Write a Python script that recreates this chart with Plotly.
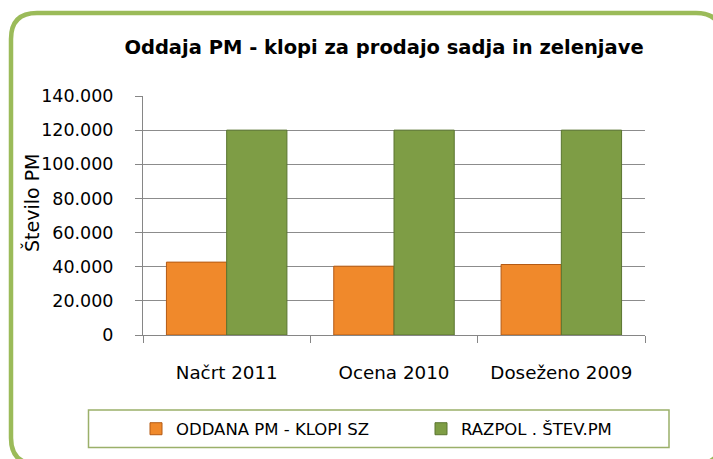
import plotly.graph_objects as go

categories = ["Načrt 2011", "Ocena 2010", "Doseženo 2009"]
oddana = [42700, 40300, 41300]
razpol = [120000, 120000, 120000]
series_names = ["ODDANA PM - KLOPI SZ", "RAZPOL . ŠTEV.PM"]
tick_vals = [0, 20000, 40000, 60000, 80000, 100000, 120000, 140000]
tick_text = ["0", "20.000", "40.000", "60.000", "80.000", "100.000", "120.000", "140.000"]
y_title = "Število PM"

W, H = 713, 459
L, R, T, B = 143, 68, 96, 124
PW, PH = W - L - R, H - T - B

def px(x):
    return (x - L) / PW

def py(y):
    return (H - B - y) / PH

fig = go.Figure()
fig.add_trace(go.Bar(
    x=categories, y=oddana, name=series_names[0], legend="legend",
    marker=dict(color="#F0892B", line=dict(color="#B45A14", width=1)),
))
fig.add_trace(go.Bar(
    x=categories, y=razpol, name=series_names[1], legend="legend2",
    marker=dict(color="#7E9D45", line=dict(color="#5A7530", width=1)),
))

# rounded frame
x0, y0, x1, y1, r = 11, 13, 722, 464, 26
path = (
    f"M {px(x0+r)},{py(y0)} L {px(x1-r)},{py(y0)} Q {px(x1)},{py(y0)} {px(x1)},{py(y0+r)} "
    f"L {px(x1)},{py(y1-r)} Q {px(x1)},{py(y1)} {px(x1-r)},{py(y1)} "
    f"L {px(x0+r)},{py(y1)} Q {px(x0)},{py(y1)} {px(x0)},{py(y1-r)} "
    f"L {px(x0)},{py(y0+r)} Q {px(x0)},{py(y0)} {px(x0+r)},{py(y0)} Z"
)
shapes = [
    dict(type="path", xref="paper", yref="paper", path=path,
         line=dict(color="#9BBB59", width=4.5), layer="below"),
    dict(type="rect", xref="paper", yref="paper",
         x0=px(88.5), x1=px(669), y0=py(447.5), y1=py(410),
         line=dict(color="#9BB06A", width=1.5)),
]

leg_common = dict(orientation="h", yanchor="middle", y=py(429), xanchor="left",
                  font=dict(size=16.5), bgcolor="rgba(0,0,0,0)", borderwidth=0)

fig.update_layout(
    width=W, height=H,
    margin=dict(l=L, r=R, t=T, b=B, autoexpand=False),
    paper_bgcolor="white", plot_bgcolor="white",
    barmode="group", bargap=0.28, bargroupgap=0,
    font=dict(family="DejaVu Sans", color="#000000"),
    title=dict(text="<b>Oddaja PM - klopi za prodajo sadja in zelenjave</b>",
               x=384 / W, xanchor="center", y=1 - 47 / H, yanchor="middle",
               font=dict(size=19.5, family="DejaVu Sans")),
    showlegend=True,
    legend=dict(x=px(136), **leg_common),
    legend2=dict(x=px(421), **leg_common),
    shapes=shapes,
    annotations=[dict(text=y_title, textangle=-90, xref="paper", yref="paper",
                      x=px(31), y=py(203), xanchor="center", yanchor="middle",
                      showarrow=False, font=dict(size=19))],
    xaxis=dict(showline=True, linecolor="#868686", linewidth=1, automargin=False,
               ticks="outside", tickson="boundaries", ticklen=7, tickcolor="#868686",
               tickfont=dict(size=18.3), ticklabelstandoff=21, showgrid=False),
    yaxis=dict(range=[0, 140000], tickvals=tick_vals, ticktext=tick_text, automargin=False,
               showline=True, linecolor="#868686", linewidth=1,
               ticks="outside", ticklen=7, tickcolor="#868686",
               gridcolor="#8C8C8C", gridwidth=1,
               tickfont=dict(size=17.5), ticklabelstandoff=18),
)

fig.write_html("out.html", config={"displayModeBar": False},
               post_script="document.body.style.margin='0';document.body.style.padding='0';")
